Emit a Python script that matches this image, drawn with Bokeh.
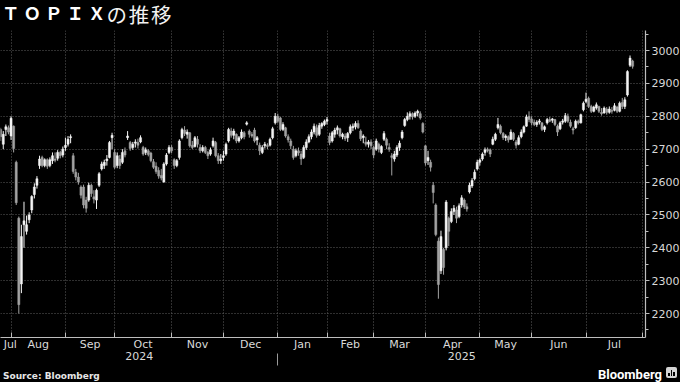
from bokeh.plotting import figure
from bokeh.models import (Range1d, FixedTicker, SingleIntervalTicker, LinearAxis,
                          ColumnDataSource, Div)
from bokeh.layouts import column
from bokeh.embed import file_html
from bokeh.resources import INLINE

# ---------------- data (TOPIX daily OHLC) ----------------
dates = [
    "2024-07-25", "2024-07-26", "2024-07-29", "2024-07-30", "2024-07-31",
    "2024-08-01", "2024-08-02", "2024-08-05", "2024-08-06", "2024-08-07", "2024-08-08", "2024-08-09",
    "2024-08-13", "2024-08-14", "2024-08-15", "2024-08-16", "2024-08-19", "2024-08-20", "2024-08-21",
    "2024-08-22", "2024-08-23", "2024-08-26", "2024-08-27", "2024-08-28", "2024-08-29", "2024-08-30",
    "2024-09-02", "2024-09-03", "2024-09-04", "2024-09-05", "2024-09-06", "2024-09-09", "2024-09-10",
    "2024-09-11", "2024-09-12", "2024-09-13", "2024-09-17", "2024-09-18", "2024-09-19", "2024-09-20",
    "2024-09-24", "2024-09-25", "2024-09-26", "2024-09-27", "2024-09-30",
    "2024-10-01", "2024-10-02", "2024-10-03", "2024-10-04", "2024-10-07", "2024-10-08", "2024-10-09",
    "2024-10-10", "2024-10-11", "2024-10-15", "2024-10-16", "2024-10-17", "2024-10-18", "2024-10-21",
    "2024-10-22", "2024-10-23", "2024-10-24", "2024-10-25", "2024-10-28", "2024-10-29", "2024-10-30",
    "2024-10-31",
    "2024-11-01", "2024-11-05", "2024-11-06", "2024-11-07", "2024-11-08", "2024-11-11", "2024-11-12",
    "2024-11-13", "2024-11-14", "2024-11-15", "2024-11-18", "2024-11-19", "2024-11-20", "2024-11-21",
    "2024-11-22", "2024-11-25", "2024-11-26", "2024-11-27", "2024-11-28", "2024-11-29",
    "2024-12-02", "2024-12-03", "2024-12-04", "2024-12-05", "2024-12-06", "2024-12-09", "2024-12-10",
    "2024-12-11", "2024-12-12", "2024-12-13", "2024-12-16", "2024-12-17", "2024-12-18", "2024-12-19",
    "2024-12-20", "2024-12-23", "2024-12-24", "2024-12-25", "2024-12-26", "2024-12-27", "2024-12-30",
    "2025-01-06", "2025-01-07", "2025-01-08", "2025-01-09", "2025-01-10", "2025-01-14", "2025-01-15",
    "2025-01-16", "2025-01-17", "2025-01-20", "2025-01-21", "2025-01-22", "2025-01-23", "2025-01-24",
    "2025-01-27", "2025-01-28", "2025-01-29", "2025-01-30", "2025-01-31",
    "2025-02-03", "2025-02-04", "2025-02-05", "2025-02-06", "2025-02-07", "2025-02-10", "2025-02-12",
    "2025-02-13", "2025-02-14", "2025-02-17", "2025-02-18", "2025-02-19", "2025-02-20", "2025-02-21",
    "2025-02-25", "2025-02-26", "2025-02-27", "2025-02-28",
    "2025-03-03", "2025-03-04", "2025-03-05", "2025-03-06", "2025-03-07", "2025-03-10", "2025-03-11",
    "2025-03-12", "2025-03-13", "2025-03-14", "2025-03-17", "2025-03-18", "2025-03-19", "2025-03-21",
    "2025-03-24", "2025-03-25", "2025-03-26", "2025-03-27", "2025-03-28", "2025-03-31",
    "2025-04-01", "2025-04-02", "2025-04-03", "2025-04-04", "2025-04-07", "2025-04-08", "2025-04-09",
    "2025-04-10", "2025-04-11", "2025-04-14", "2025-04-15", "2025-04-16", "2025-04-17", "2025-04-18",
    "2025-04-21", "2025-04-22", "2025-04-23", "2025-04-24", "2025-04-25", "2025-04-28", "2025-04-30",
    "2025-05-01", "2025-05-02", "2025-05-07", "2025-05-08", "2025-05-09", "2025-05-12", "2025-05-13",
    "2025-05-14", "2025-05-15", "2025-05-16", "2025-05-19", "2025-05-20", "2025-05-21", "2025-05-22",
    "2025-05-23", "2025-05-26", "2025-05-27", "2025-05-28", "2025-05-29", "2025-05-30",
    "2025-06-02", "2025-06-03", "2025-06-04", "2025-06-05", "2025-06-06", "2025-06-09", "2025-06-10",
    "2025-06-11", "2025-06-12", "2025-06-13", "2025-06-16", "2025-06-17", "2025-06-18", "2025-06-19",
    "2025-06-20", "2025-06-23", "2025-06-24", "2025-06-25", "2025-06-26", "2025-06-27", "2025-06-30",
    "2025-07-01", "2025-07-02", "2025-07-03", "2025-07-04", "2025-07-07", "2025-07-08", "2025-07-09",
    "2025-07-10", "2025-07-11", "2025-07-14", "2025-07-15", "2025-07-16", "2025-07-17", "2025-07-18",
    "2025-07-22", "2025-07-23", "2025-07-24", "2025-07-25",
]

opens = [
    2760, 2715, 2760, 2765, 2740,
    2770, 2660, 2490, 2290, 2470, 2450, 2485, 2515, 2562, 2590, 2650, 2675, 2650, 2668, 2650, 2665,
    2670, 2672, 2690, 2682, 2705,
    2715, 2735, 2680, 2630, 2615, 2585, 2585, 2545, 2545, 2590, 2555, 2545, 2590, 2640, 2650, 2665,
    2675, 2735, 2690,
    2650, 2670, 2660, 2695, 2735, 2720, 2705, 2718, 2720, 2722, 2705, 2690, 2695, 2688, 2662, 2648,
    2635, 2620, 2600, 2655, 2690, 2705,
    2668, 2650, 2675, 2735, 2758, 2745, 2750, 2712, 2708, 2730, 2705, 2695, 2705, 2690, 2685, 2710,
    2720, 2680, 2665, 2675,
    2685, 2725, 2755, 2742, 2745, 2725, 2735, 2750, 2776, 2755, 2745, 2758, 2728, 2712, 2690, 2710,
    2712, 2712, 2735, 2780, 2800,
    2795, 2760, 2765, 2738, 2725, 2700, 2680, 2695, 2685, 2675, 2705, 2722, 2738, 2752, 2765, 2745,
    2770, 2775, 2785,
    2740, 2725, 2745, 2758, 2762, 2738, 2740, 2735, 2750, 2765, 2768, 2778, 2755, 2735, 2722, 2715,
    2722, 2705,
    2700, 2715, 2690, 2730, 2730, 2705, 2680, 2670, 2682, 2705, 2735, 2772, 2790, 2800, 2808, 2800,
    2810, 2808, 2778, 2710,
    2665, 2660, 2590, 2530, 2420, 2330, 2395, 2400, 2490, 2480, 2510, 2515, 2495, 2530, 2545, 2525,
    2570, 2588, 2610, 2640, 2660,
    2670, 2690, 2700, 2698, 2715, 2730, 2765, 2770, 2748, 2735, 2738, 2730, 2748, 2722, 2715, 2738,
    2752, 2770, 2800, 2792,
    2782, 2775, 2782, 2780, 2760, 2780, 2790, 2788, 2790, 2770, 2762, 2782, 2785, 2800, 2782, 2762,
    2765, 2785, 2780, 2820, 2845,
    2855, 2830, 2815, 2825, 2830, 2812, 2810, 2822, 2812, 2818, 2818, 2828, 2815, 2842, 2830, 2865,
    2955, 2968,
]

highs = [
    2765, 2755, 2775, 2772, 2800,
    2772, 2665, 2495, 2470, 2540, 2498, 2508, 2560, 2596, 2618, 2680, 2680, 2672, 2672, 2675, 2690,
    2690, 2697, 2695, 2708, 2735,
    2740, 2745, 2688, 2640, 2628, 2590, 2592, 2555, 2598, 2595, 2575, 2580, 2630, 2662, 2668, 2682,
    2725, 2750, 2700,
    2690, 2682, 2700, 2705, 2755, 2725, 2722, 2730, 2732, 2742, 2710, 2705, 2700, 2692, 2670, 2660,
    2645, 2640, 2660, 2688, 2712, 2712,
    2672, 2670, 2730, 2765, 2770, 2760, 2752, 2725, 2740, 2740, 2715, 2712, 2710, 2695, 2705, 2735,
    2725, 2688, 2685, 2695,
    2720, 2765, 2765, 2762, 2748, 2740, 2760, 2755, 2785, 2760, 2752, 2765, 2740, 2720, 2712, 2722,
    2718, 2735, 2768, 2810, 2808,
    2798, 2782, 2768, 2745, 2732, 2710, 2702, 2705, 2695, 2712, 2730, 2745, 2760, 2778, 2775, 2780,
    2782, 2790, 2798,
    2750, 2755, 2765, 2772, 2765, 2750, 2748, 2752, 2775, 2778, 2785, 2788, 2760, 2745, 2738, 2728,
    2730, 2710,
    2732, 2720, 2712, 2755, 2735, 2718, 2688, 2695, 2712, 2726, 2758, 2795, 2812, 2815, 2812, 2815,
    2820, 2815, 2782, 2712,
    2695, 2668, 2600, 2535, 2431, 2452, 2400, 2545, 2495, 2520, 2530, 2525, 2535, 2560, 2550, 2535,
    2598, 2612, 2638, 2668, 2672,
    2690, 2705, 2705, 2702, 2738, 2750, 2795, 2775, 2752, 2745, 2742, 2760, 2752, 2728, 2742, 2760,
    2772, 2805, 2815, 2800,
    2790, 2788, 2792, 2782, 2772, 2795, 2798, 2795, 2792, 2775, 2785, 2792, 2810, 2808, 2790, 2768,
    2790, 2790, 2808, 2845, 2872,
    2860, 2835, 2832, 2842, 2832, 2825, 2830, 2828, 2830, 2828, 2840, 2832, 2845, 2856, 2858, 2940,
    2985, 2972,
]

lows = [
    2725, 2700, 2740, 2745, 2728,
    2690, 2530, 2200, 2262, 2400, 2440, 2475, 2505, 2550, 2580, 2640, 2645, 2645, 2640, 2645, 2655,
    2660, 2665, 2672, 2675, 2695,
    2708, 2718, 2625, 2605, 2592, 2550, 2520, 2507, 2540, 2555, 2535, 2518, 2585, 2635, 2640, 2650,
    2672, 2700, 2640,
    2642, 2640, 2655, 2675, 2728, 2695, 2698, 2705, 2702, 2718, 2680, 2682, 2678, 2660, 2640, 2625,
    2610, 2605, 2598, 2650, 2685, 2688,
    2640, 2645, 2668, 2730, 2740, 2732, 2705, 2700, 2705, 2705, 2688, 2690, 2685, 2670, 2680, 2705,
    2675, 2655, 2655, 2665,
    2680, 2720, 2735, 2730, 2718, 2720, 2730, 2730, 2772, 2735, 2735, 2720, 2712, 2682, 2685, 2702,
    2700, 2708, 2730, 2775, 2780,
    2755, 2755, 2735, 2720, 2700, 2668, 2675, 2680, 2652, 2670, 2698, 2718, 2730, 2745, 2735, 2740,
    2762, 2770, 2775,
    2712, 2720, 2735, 2745, 2735, 2730, 2725, 2722, 2745, 2755, 2760, 2762, 2725, 2718, 2708, 2705,
    2700, 2672,
    2695, 2690, 2685, 2725, 2700, 2692, 2620, 2662, 2676, 2695, 2730, 2768, 2785, 2790, 2790, 2795,
    2800, 2790, 2748, 2650,
    2652, 2632, 2535, 2435, 2245, 2320, 2318, 2392, 2405, 2475, 2500, 2475, 2490, 2522, 2518, 2510,
    2565, 2582, 2605, 2635, 2650,
    2665, 2680, 2690, 2676, 2712, 2725, 2760, 2745, 2728, 2725, 2720, 2728, 2725, 2702, 2712, 2733,
    2748, 2768, 2782, 2772,
    2770, 2768, 2775, 2755, 2752, 2775, 2782, 2780, 2770, 2740, 2758, 2775, 2780, 2780, 2765, 2745,
    2762, 2775, 2778, 2815, 2840,
    2825, 2810, 2812, 2820, 2810, 2802, 2808, 2805, 2808, 2808, 2815, 2810, 2812, 2822, 2822, 2860,
    2950, 2945,
]

closes = [
    2738, 2745, 2768, 2752, 2794,
    2702, 2537, 2227, 2434, 2482, 2470, 2500, 2556, 2585, 2610, 2670, 2650, 2668, 2648, 2668, 2680,
    2666, 2690, 2680, 2700, 2712,
    2730, 2738, 2632, 2615, 2600, 2560, 2530, 2520, 2590, 2565, 2548, 2575, 2625, 2655, 2660, 2670,
    2720, 2742, 2645,
    2680, 2650, 2690, 2682, 2740, 2702, 2715, 2722, 2712, 2735, 2685, 2698, 2684, 2665, 2645, 2632,
    2618, 2612, 2655, 2682, 2705, 2695,
    2650, 2665, 2725, 2760, 2748, 2752, 2710, 2705, 2735, 2715, 2695, 2705, 2690, 2680, 2698, 2725,
    2680, 2665, 2670, 2680,
    2715, 2760, 2742, 2755, 2725, 2735, 2752, 2738, 2780, 2745, 2740, 2725, 2735, 2695, 2705, 2715,
    2708, 2730, 2762, 2800, 2785,
    2760, 2775, 2740, 2728, 2710, 2675, 2695, 2688, 2670, 2705, 2722, 2738, 2752, 2770, 2742, 2772,
    2778, 2785, 2790,
    2720, 2750, 2758, 2765, 2740, 2745, 2732, 2748, 2768, 2770, 2778, 2765, 2732, 2740, 2715, 2722,
    2710, 2682,
    2725, 2700, 2708, 2748, 2712, 2700, 2675, 2685, 2705, 2718, 2752, 2790, 2800, 2808, 2798, 2810,
    2815, 2795, 2752, 2658,
    2675, 2645, 2568, 2440, 2288, 2434, 2340, 2539, 2450, 2510, 2520, 2490, 2528, 2552, 2525, 2518,
    2590, 2605, 2630, 2660, 2667,
    2685, 2698, 2695, 2685, 2730, 2745, 2775, 2750, 2735, 2740, 2728, 2752, 2730, 2712, 2735, 2752,
    2768, 2798, 2790, 2780,
    2775, 2782, 2786, 2760, 2768, 2790, 2785, 2792, 2775, 2752, 2780, 2786, 2802, 2785, 2770, 2758,
    2785, 2780, 2805, 2840, 2852,
    2830, 2815, 2828, 2835, 2815, 2808, 2825, 2812, 2822, 2815, 2832, 2815, 2840, 2830, 2850, 2936,
    2977, 2952,
]

# sessions still to come in July 2025: the axis runs to the end of the month
axis_extra_dates = ["2025-07-28", "2025-07-29", "2025-07-30", "2025-07-31", "2025-08-01"]
month_abbr = ["Jan", "Feb", "Mar", "Apr", "May", "Jun",
              "Jul", "Aug", "Sep", "Oct", "Nov", "Dec"]
y_tick_step = 100
title_latin = "ＴＯＰＩＸ"
title_jp = "の推移"
source_text = "Source: Bloomberg"
brand_text = "Bloomberg"

# ---------------- layout constants ----------------
W, H = 680, 382
TITLE_H, FOOT_H = 30, 16
FW, FH = 645, 307
BOTTOM = 40
X0, X1 = -0.07, 248.97
Y0, Y1 = 2127, 3061
PX = FW / (X1 - X0)

BG = "#000000"
AXIS = "#bdbdbd"
GRID = "#5e5e5e"
TXT = "#d9d9d9"

# ---------------- derived positions ----------------
n = len(dates)
idx = list(range(n))
cal = dates + axis_extra_dates
starts = [i for i in range(1, len(cal)) if cal[i][:7] != cal[i - 1][:7]]
bounds = [s - 1 for s in starts]          # tick on the last session of prior month

edges = [X0] + bounds
label_pos, label_txt = [], []
for k in range(len(bounds)):
    m = int(cal[starts[k] - 1][5:7])
    pos = X0 + 9.8 / PX if k == 0 else (edges[k] + edges[k + 1]) / 2
    label_pos.append(round(pos, 3))
    label_txt.append(month_abbr[m - 1])

jan_tick = [b for b, s in zip(bounds, starts) if cal[s][5:7] == "01"][0]
year_pos = [round((X0 + jan_tick) / 2, 3), round((jan_tick + X1) / 2, 3)]
year_txt = [dates[0][:4], dates[-1][:4]]

src = ColumnDataSource(dict(
    x=idx, o=opens, h=highs, l=lows, c=closes,
    top=[max(o, c) for o, c in zip(opens, closes)],
    bot=[min(o, c) for o, c in zip(opens, closes)],
    col=["#f4f4f4" if c >= o else "#a3a3a3" for o, c in zip(opens, closes)],
))

p = figure(frame_width=FW, frame_height=FH, output_backend="svg", toolbar_location=None,
           tools="", x_range=Range1d(X0, X1), y_range=Range1d(Y0, Y1),
           y_axis_location="right", background_fill_color=BG, border_fill_color=BG,
           min_border_left=0, min_border_right=W - FW, min_border_top=0,
           min_border_bottom=BOTTOM, margin=0)
p.outline_line_color = None

p.segment(x0="x", y0="l", x1="x", y1="h", line_color="col", line_width=1, source=src)
p.vbar(x="x", width=0.8, top="top", bottom="bot", fill_color="col", line_color="col",
       line_width=0.5, source=src)

# y axis (right)
yax = p.yaxis[0]
yax.ticker = SingleIntervalTicker(interval=y_tick_step, num_minor_ticks=2)
yax.axis_line_color = AXIS
yax.axis_line_width = 1.2
yax.major_tick_line_color = AXIS
yax.minor_tick_line_color = AXIS
yax.major_tick_in = 0
yax.major_tick_out = 4
yax.minor_tick_in = 0
yax.minor_tick_out = 3
yax.major_label_standoff = 2
yax.major_label_text_color = TXT
yax.major_label_text_font = "DejaVu Sans"
yax.major_label_text_font_size = "11px"

# x axis: month boundaries as (inward) minor ticks, month names as major labels
xax = p.xaxis[0]
xax.ticker = FixedTicker(ticks=label_pos, minor_ticks=bounds)
xax.major_label_overrides = dict(zip(label_pos, label_txt))
xax.axis_line_color = AXIS
xax.axis_line_width = 1.2
xax.major_tick_line_color = None
xax.major_tick_in = 0
xax.major_tick_out = 0
xax.minor_tick_line_color = AXIS
xax.minor_tick_in = 5
xax.minor_tick_out = 0
xax.major_label_standoff = 0
xax.major_label_text_color = TXT
xax.major_label_text_font = "DejaVu Sans"
xax.major_label_text_font_size = "11px"

# year axis with a separator at the turn of the year
yr = LinearAxis(ticker=FixedTicker(ticks=year_pos, minor_ticks=[jan_tick]),
                major_label_overrides=dict(zip(year_pos, year_txt)),
                axis_line_color=None, major_tick_line_color=None,
                major_tick_in=0, major_tick_out=0,
                minor_tick_line_color="#9a9a9a", minor_tick_in=0, minor_tick_out=12,
                major_label_standoff=-14, major_label_text_color=TXT,
                major_label_text_font="DejaVu Sans", major_label_text_font_size="11px")
p.add_layout(yr, "below")

p.xgrid.ticker = FixedTicker(ticks=bounds)
for g in (p.xgrid[0], p.ygrid[0]):
    g.grid_line_color = GRID
    g.grid_line_dash = "1 2"
    g.grid_line_width = 1

# title and footer (HTML text)
title_html = (
    f'<div style="position:relative;width:{W}px;height:{TITLE_H}px;background:{BG};">'
    f'<span style="position:absolute;left:2px;top:0px;font-family:\'Noto Sans CJK JP\';'
    f'font-weight:bold;font-size:17.5px;letter-spacing:4px;'
    f'color:#ffffff;white-space:nowrap;">{title_latin}</span>'
    f'<span style="position:absolute;left:106.5px;top:0px;font-family:\'Noto Sans CJK JP\';'
    f'font-weight:normal;font-size:20.5px;letter-spacing:1.8px;color:#f2f2f2;'
    f'white-space:nowrap;">{title_jp}</span></div>'
)
icon = (
    '<span style="position:absolute;left:666px;top:1px;width:11px;height:11px;'
    'background:#d4d4d4;border-radius:2px;">'
    '<span style="position:absolute;left:2px;bottom:2px;width:1.6px;height:3px;background:#000;"></span>'
    '<span style="position:absolute;left:4.7px;bottom:2px;width:1.6px;height:6px;background:#000;"></span>'
    '<span style="position:absolute;left:7.4px;bottom:2px;width:1.6px;height:4px;background:#000;"></span>'
    '</span>'
)
foot_html = (
    f'<div style="position:relative;width:{W}px;height:{FOOT_H}px;">'
    f'<span style="position:absolute;left:3px;top:3.6px;font-family:\'DejaVu Sans\';'
    f'font-weight:bold;font-size:9px;color:#e6e6e6;white-space:nowrap;">'
    f'{source_text}</span>'
    f'<span style="position:absolute;right:18px;top:0px;font-family:Roboto;'
    f'font-weight:bold;font-size:13px;color:#ffffff;'
    f'white-space:nowrap;">{brand_text}</span>{icon}</div>'
)
title_div = Div(text=title_html, width=W, height=TITLE_H, margin=0)
# the footer overlaps the (empty) lower border of the figure
overlap = TITLE_H + FH + BOTTOM + FOOT_H - H
foot_div = Div(text=foot_html, width=W, height=FOOT_H, margin=(-overlap, 0, 0, 0))

layout = column(title_div, p, foot_div, spacing=0, margin=0,
                styles={"background-color": BG})

open("out.html", "w").write(file_html(layout, INLINE))
